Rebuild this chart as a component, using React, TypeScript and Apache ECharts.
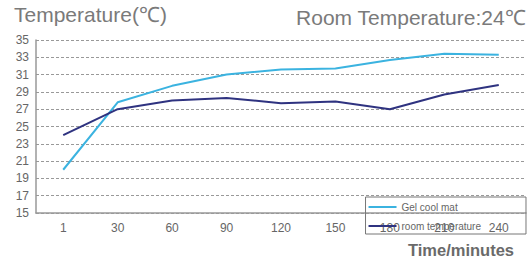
import React, { useEffect, useRef } from "react";
import * as echarts from "echarts";

const categories = ["1", "30", "60", "90", "120", "150", "180", "210", "240"];
const gelCoolMat = [20, 27.8, 29.7, 31.0, 31.6, 31.7, 32.7, 33.4, 33.3];
const roomTemp = [24.0, 27.0, 28.0, 28.3, 27.7, 27.9, 27.0, 28.7, 29.8];
const seriesNames = ["Gel cool mat", "room temperature"];

export default function App() {
  const ref = useRef<HTMLDivElement>(null);
  useEffect(() => {
    if (!ref.current) return;
    const chart = echarts.init(ref.current, undefined, { renderer: "svg" });
    chart.setOption({
      animation: false,
      backgroundColor: "#ffffff",
      textStyle: { fontFamily: "Arial, 'Liberation Sans', sans-serif" },
      grid: { left: 36, top: 40, right: 6, bottom: 50 },
      graphic: [
        {
          type: "text",
          left: 14,
          top: 4,
          style: { text: "Temperature(℃)", fontSize: 21, fill: "#7a7a7a", fontFamily: "Arial, 'Liberation Sans', sans-serif" },
        },
        {
          type: "text",
          right: 6,
          top: 7,
          style: { text: "Room Temperature:24℃", fontSize: 21, fill: "#7a7a7a", fontFamily: "Arial, 'Liberation Sans', sans-serif" },
        },
        {
          type: "text",
          right: 18,
          top: 241,
          style: { text: "Time/minutes", fontSize: 16.5, fontWeight: "bold", fill: "#6a6a6a", fontFamily: "Arial, 'Liberation Sans', sans-serif" },
        },
      ],
      legend: {
        orient: "vertical",
        right: 6,
        top: 197,
        data: seriesNames,
        itemWidth: 28,
        itemHeight: 2,
        itemGap: 9,
        padding: [5, 45, 3, 3],
        borderColor: "#777",
        borderWidth: 1,
        icon: "rect",
        textStyle: { fontSize: 10, color: "#666" },
      },
      xAxis: {
        type: "category",
        data: categories,
        boundaryGap: true,
        axisLine: { lineStyle: { color: "#999", width: 1.5 } },
        axisTick: { inside: true, length: 3, lineStyle: { color: "#999" } },
        axisLabel: { color: "#666", fontSize: 12, margin: 9 },
        splitLine: { show: false },
      },
      yAxis: {
        type: "value",
        min: 15,
        max: 35,
        interval: 2,
        axisLine: { show: true, lineStyle: { color: "#999", width: 1.5 } },
        axisTick: { show: false },
        axisLabel: { color: "#666", fontSize: 12, margin: 7 },
        splitLine: { lineStyle: { color: "#999", type: [3, 2], width: 1 } },
      },
      series: [
        {
          name: seriesNames[0],
          type: "line",
          data: gelCoolMat,
          symbol: "none",
          lineStyle: { color: "#3bb3e0", width: 2 },
          itemStyle: { color: "#3bb3e0" },
        },
        {
          name: seriesNames[1],
          type: "line",
          data: roomTemp,
          symbol: "none",
          lineStyle: { color: "#2f3380", width: 2 },
          itemStyle: { color: "#2f3380" },
        },
      ],
    });
    return () => chart.dispose();
  }, []);
  return <div ref={ref} style={{ width: 532, height: 263, position: "absolute", left: 0, top: 0 }} />;
}
